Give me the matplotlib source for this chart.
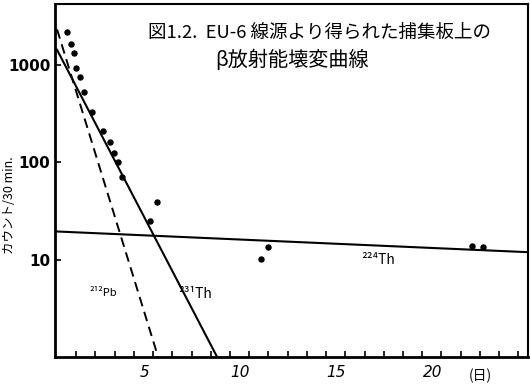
import matplotlib
matplotlib.use("Agg")
import matplotlib.pyplot as plt
from matplotlib.transforms import ScaledTranslation

plt.rcParams['font.family'] = ['Noto Sans CJK JP', 'DejaVu Sans']

# ============================================================
# DATA
# ============================================================
days = [0.51, 0.73, 0.87, 1.01, 1.18, 1.41, 1.84, 2.40, 2.78, 2.95, 3.18, 3.40,
        4.84, 5.22, 10.63, 10.99, 21.6, 22.17]
counts = [2140, 1630, 1318, 916, 748, 528, 327, 210, 161, 124, 100, 71,
          24.7, 38.5, 10.2, 13.4, 13.9, 13.3]

# fitted component lines (end points)
pb212_x = [0.0, 5.26]
pb212_y = [2300, 1]
th231_x = [0.0, 8.33]
th231_y = [1420, 1]
th224_x = [0.0, 24.5]
th224_y = [19.4, 11.9]

x_major = [5, 10, 15, 20]
x_minor = list(range(1, 25))
y_major = [10, 100, 1000]

title_1 = "図1.2.  EU-6 線源より得られた捕集板上の"
title_2 = "β放射能壊変曲線"
ylabel = "カウント/30 min."
xunit = "(日)"

# ============================================================
# FIGURE
# ============================================================
fig = plt.figure(figsize=(5.30, 3.91), dpi=100)
ax = fig.add_axes([0.104, 0.087, 0.892, 0.903])

ax.scatter(days, counts, s=13, color="black", zorder=3)
ax.plot(pb212_x, pb212_y, color="black", lw=1.4, ls=(0, (5, 3)))
ax.plot(th231_x, th231_y, color="black", lw=1.5)
ax.plot(th224_x, th224_y, color="black", lw=1.5)

ax.set_yscale("log")
ax.set_xlim(-0.1, 24.5)
ax.set_ylim(1, 4200)

ax.set_yticks(y_major)
ax.set_yticklabels([str(v) for v in y_major], fontsize=11, fontweight="bold",
                   family="DejaVu Sans")
ax.yaxis.set_minor_locator(plt.NullLocator())
ax.tick_params(axis="y", direction="in", length=4, width=1.2)

ax.set_xticks(x_minor, minor=True)
ax.set_xticks(x_major)
ax.set_xticklabels([str(v) for v in x_major], fontsize=11, family="DejaVu Sans",
                   style="italic")
ax.tick_params(axis="x", which="both", direction="in", length=4, width=1.2, pad=6)
off = ScaledTranslation(-9 / 100, 0, fig.dpi_scale_trans)
for lab in ax.get_xticklabels():
    lab.set_transform(lab.get_transform() + off)

for side in ["left", "bottom"]:
    ax.spines[side].set_linewidth(2.0)
for side in ["top", "right"]:
    ax.spines[side].set_linewidth(1.5)

# labels
ax.text(2.4, 4.5, "²¹²Pb", fontsize=8, ha="center", va="center")
ax.text(7.2, 4.4, "²³¹Th", fontsize=10, ha="center", va="center")
ax.text(16.7, 9.8, "²²⁴Th", fontsize=10, ha="center", va="center")

fig.text(148 / 530, 1 - 33 / 391, title_1, fontsize=13.3, ha="left", va="center")
fig.text(215 / 530, 1 - 60 / 391, title_2, fontsize=14.5, ha="left", va="center")
fig.text(10 / 530, 1 - 205 / 391, ylabel, fontsize=9, rotation=90,
         ha="center", va="center")
fig.text(480 / 530, 1 - 376 / 391, xunit, fontsize=10, ha="center", va="center")

fig.savefig("out.png", dpi=100)
